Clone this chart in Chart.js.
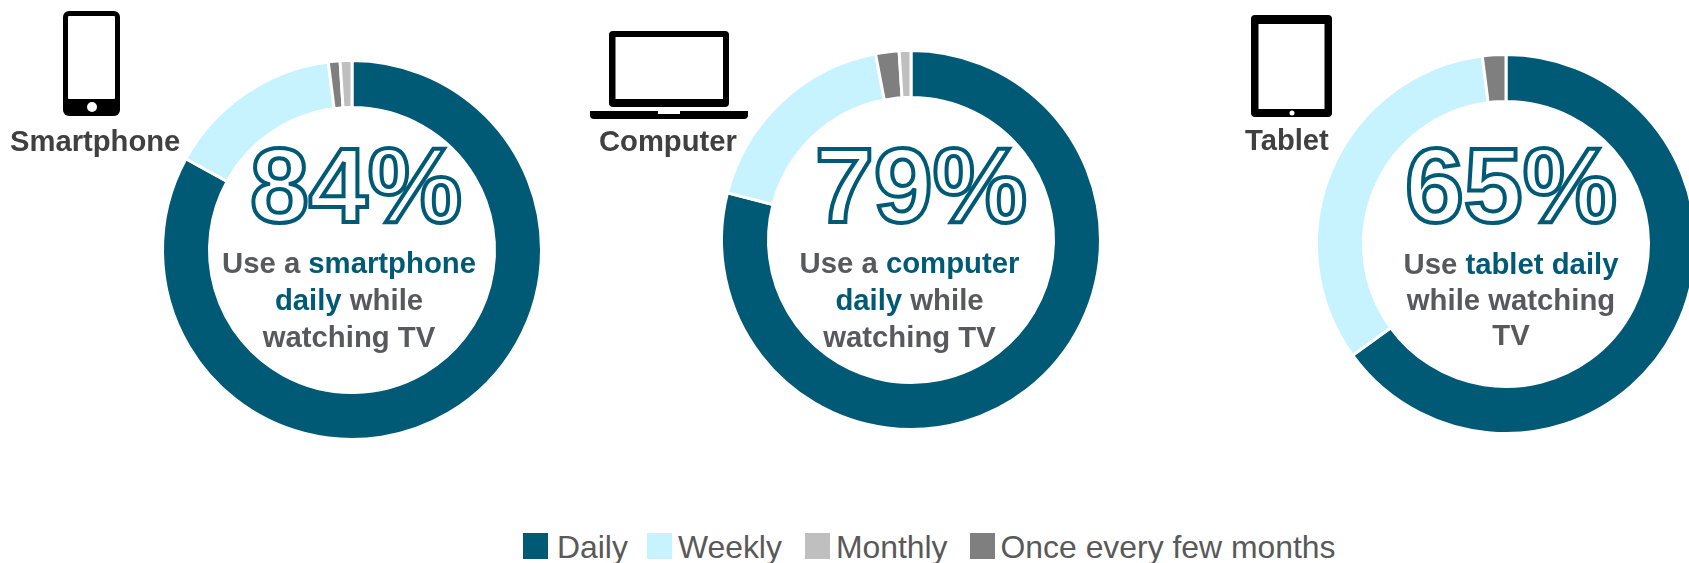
<!DOCTYPE html>
<html>
<head>
<meta charset="utf-8">
<script src="https://cdn.jsdelivr.net/npm/chart.js@4/dist/chart.umd.js"></script>
<style>
  html, body { margin: 0; padding: 0; background: #fff; }
  body { position: relative; width: 1689px; height: 563px; overflow: hidden; font-family: "Liberation Sans", Arial, sans-serif; }
  .icons { position: absolute; left: 0; top: 0; }
  canvas { position: absolute; }
  .device { position: absolute; font-weight: bold; font-size: 29.2px; line-height: 34px; color: #404040; white-space: nowrap; }
  .big { position: absolute; width: 300px; text-align: center; font-size: 106px; line-height: 110px; font-weight: bold; color: #fff; -webkit-text-stroke: 4px #005a75; white-space: nowrap; }
  .note { position: absolute; width: 300px; text-align: center; font-size: 29.3px; line-height: 37px; font-weight: bold; color: #58595b; }
  .note b { color: #005a75; }
  #legend { position: absolute; left: 523px; top: 533px; display: flex; align-items: center; height: 26px; font-size: 31.9px; color: #595959; white-space: nowrap; }
  #legend i { display: block; width: 25px; height: 26px; }
  #legend span { position: relative; top: 1px; }
</style>
</head>
<body>
<svg class="icons" width="1689" height="563">
  <!-- phone -->
  <rect x="63" y="11" width="57" height="105" rx="6" fill="#000"/>
  <rect x="68" y="16" width="47" height="83" rx="1" fill="#fff"/>
  <circle cx="92" cy="107" r="5" fill="#fff"/>
  <!-- laptop -->
  <rect x="609" y="31" width="120" height="76" rx="4" fill="#000"/>
  <rect x="615.5" y="37" width="107.5" height="62" fill="#fff"/>
  <path d="M590 111H748V115Q748 119 744 119H594Q590 119 590 115Z" fill="#000"/>
  <rect x="658" y="111" width="22" height="3" fill="#fff"/>
  <!-- tablet -->
  <rect x="1251" y="15" width="81" height="102" rx="4" fill="#000"/>
  <rect x="1258.5" y="24" width="66" height="85" fill="#fff"/>
  <circle cx="1292" cy="113" r="2.5" fill="#fff"/>
</svg>

<div id="charts"></div>
<div id="legend"></div>

<script>
// arc order runs clockwise from the top: Daily, Weekly, Once, Monthly
const categories = ['Daily', 'Weekly', 'Once every few months', 'Monthly'];
const legendOrder = ['Daily', 'Weekly', 'Monthly', 'Once every few months'];
const sliceColors = ['#005a75', '#c7f2ff', '#7f7f7f', '#bfbfbf'];

const smartphoneValues = [83, 15, 1, 1];
const computerValues = [79, 18, 2, 1];
const tabletValues = [65, 33, 2, 0];

const panels = [
  { values: smartphoneValues, device: 'Smartphone', big: '84%', note: 'Use a <b>smartphone</b><br><b>daily</b> while<br>watching TV',
    cx: 351.5, cy: 249.5, devX: 10, devY: 124, bigX: 356, noteX: 349, noteY: 243.5, noteLine: 37 },
  { values: computerValues, device: 'Computer', big: '79%', note: 'Use a <b>computer</b><br><b>daily</b> while<br>watching TV',
    cx: 911, cy: 240, devX: 599, devY: 124, bigX: 921, noteX: 909.5, noteY: 243.5, noteLine: 37 },
  { values: tabletValues, device: 'Tablet', big: '65%', note: 'Use <b>tablet daily</b><br>while watching<br>TV',
    cx: 1506, cy: 243.5, devX: 1245, devY: 123, bigX: 1511, noteX: 1511, noteY: 246, noteLine: 35.5 },
];

const holder = document.getElementById('charts');

panels.forEach((p) => {
  const canvas = document.createElement('canvas');
  canvas.width = 400;
  canvas.height = 400;
  canvas.style.left = (p.cx - 200) + 'px';
  canvas.style.top = (p.cy - 200) + 'px';
  holder.appendChild(canvas);

  new Chart(canvas.getContext('2d'), {
    type: 'doughnut',
    data: {
      labels: categories,
      datasets: [{
        data: p.values,
        backgroundColor: sliceColors,
        borderColor: '#ffffff',
        borderWidth: 3,
        radius: 189.5,
      }],
    },
    options: {
      responsive: false,
      animation: false,
      cutout: '75.2%',
      plugins: { legend: { display: false }, tooltip: { enabled: false } },
    },
  });

  const device = document.createElement('div');
  device.className = 'device';
  device.textContent = p.device;
  device.style.left = p.devX + 'px';
  device.style.top = p.devY + 'px';
  holder.appendChild(device);

  const big = document.createElement('div');
  big.className = 'big';
  big.textContent = p.big;
  big.style.left = (p.bigX - 150) + 'px';
  big.style.top = '130px';
  holder.appendChild(big);

  const note = document.createElement('div');
  note.className = 'note';
  note.innerHTML = p.note;
  note.style.left = (p.noteX - 150) + 'px';
  note.style.top = p.noteY + 'px';
  note.style.lineHeight = p.noteLine + 'px';
  holder.appendChild(note);
});

// shared legend for the three doughnuts
const swatchGaps = [9, 6, 6, 6];
const labelGaps = [19, 23, 22, 0];
const legend = document.getElementById('legend');
legendOrder.forEach((name, i) => {
  const swatch = document.createElement('i');
  swatch.style.background = sliceColors[categories.indexOf(name)];
  swatch.style.marginRight = swatchGaps[i] + 'px';
  const label = document.createElement('span');
  label.textContent = name;
  label.style.marginRight = labelGaps[i] + 'px';
  legend.appendChild(swatch);
  legend.appendChild(label);
});
</script>
</body>
</html>
